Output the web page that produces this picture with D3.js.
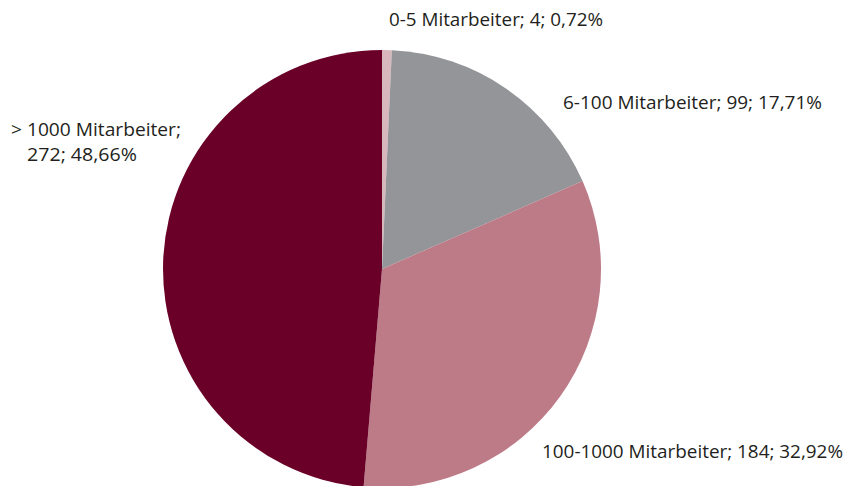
<!DOCTYPE html>
<html><head><meta charset="utf-8">
<script src="https://cdn.jsdelivr.net/npm/d3@7"></script>
<style>body{margin:0;background:#fff}text{font-family:"Open Sans",sans-serif;fill:#231f20}</style>
</head><body><svg id="c" width="848" height="486"></svg>
<script>
const categories = ["0-5 Mitarbeiter", "6-100 Mitarbeiter", "100-1000 Mitarbeiter", "> 1000 Mitarbeiter"];
const counts = [4, 99, 184, 272];
const percents = ["0,72%", "17,71%", "32,92%", "48,66%"];
const colors = ["#d8b7bd", "#939598", "#bd7b88", "#6a0027"];

const svg = d3.select("#c");
const cx = 382, cy = 269, r = 219;
const g = svg.append("g").attr("transform", `translate(${cx},${cy})`);
const pie = d3.pie().sort(null).value(d => d)(counts);
const arc = d3.arc().innerRadius(0).outerRadius(r);
g.selectAll("path").data(pie).join("path").attr("d", arc).attr("fill", (d,i) => colors[i]);

// label layout: [x-start, baseline, target width] per line
const labels = [
  [[389, 26, 214, categories[0] + "; " + counts[0] + "; " + percents[0]]],
  [[563, 109, 259, categories[1] + "; " + counts[1] + "; " + percents[1]]],
  [[542, 458, 301, categories[2] + "; " + counts[2] + "; " + percents[2]]],
  [[11, 136, 170, categories[3] + ";"], [27, 161, 110, counts[3] + "; " + percents[3]]]
];
labels.forEach(lines => lines.forEach(([x, y, w, t]) => {
  svg.append("text").attr("x", x).attr("y", y).attr("font-size", 17.5)
    .attr("textLength", w).attr("lengthAdjust", "spacingAndGlyphs").text(t);
}));
</script></body></html>
